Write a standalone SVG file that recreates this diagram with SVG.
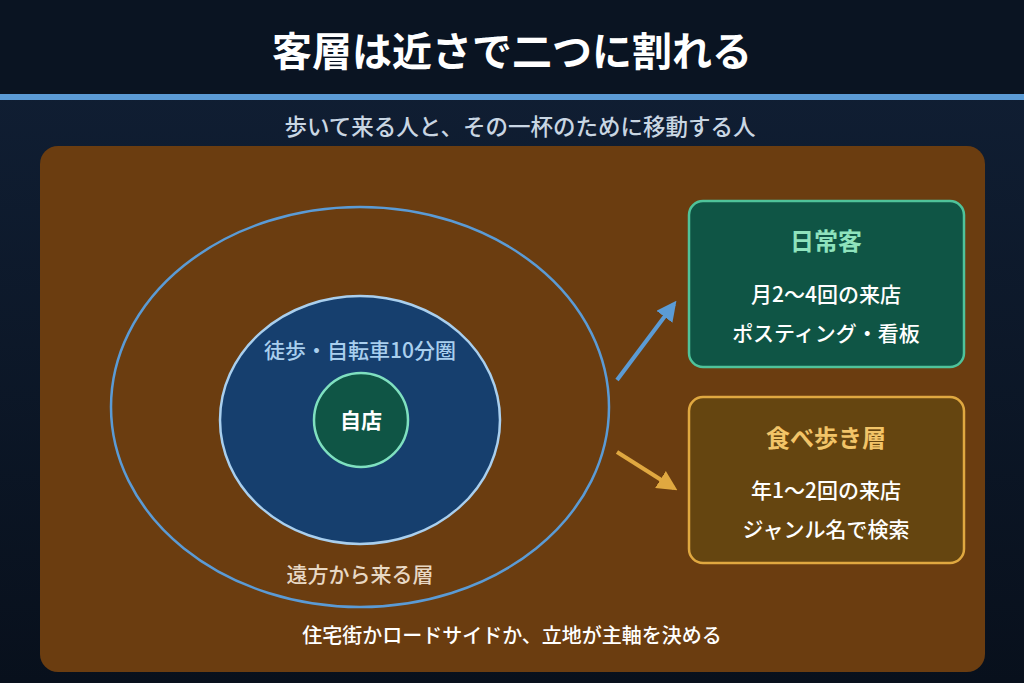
<svg xmlns="http://www.w3.org/2000/svg" width="1024" height="683" viewBox="0 0 1024 683">
<defs>
<linearGradient id="bg" x1="0" y1="0" x2="0" y2="1">
<stop offset="0" stop-color="#112036"/>
<stop offset="1" stop-color="#08101c"/>
</linearGradient>
<marker id="ab" viewBox="0 0 10 10" refX="8" refY="5" markerWidth="5" markerHeight="5" orient="auto"><path d="M0,0L10,5L0,10z" fill="#5b9bd5"/></marker>
<marker id="ao" viewBox="0 0 10 10" refX="8" refY="5" markerWidth="5" markerHeight="5" orient="auto"><path d="M0,0L10,5L0,10z" fill="#e0a840"/></marker>
<style>
text{font-family:"Noto Sans CJK JP","Noto Sans",sans-serif;text-anchor:middle}
.t{font-weight:700;font-size:40px;fill:#fff}
.sub{font-size:22.5px;fill:#c9d6e3;font-weight:500}
.lab{font-size:21px;font-weight:500}
.bt{font-size:24px;font-weight:700}
.bl{font-size:21px;fill:#fff;font-weight:500}
</style>
</defs>
<rect width="1024" height="683" fill="url(#bg)"/>
<rect width="1024" height="95" fill="#0a1422"/>
<rect y="94" width="1024" height="6" fill="#5b9bd5"/>
<text class="t" x="512" y="66">客層は近さで二つに割れる</text>
<text class="sub" x="520" y="135">歩いて来る人と、その一杯のために移動する人</text>
<rect x="40" y="146" width="945" height="526" rx="18" fill="#6b3d10"/>
<g id="outer"><ellipse cx="360" cy="407" rx="249" ry="200" fill="none" stroke="#5b9bd5" stroke-width="2.5"/>
<text class="lab" x="360" y="582" fill="#e8d8c4">遠方から来る層</text></g>
<g id="inner"><ellipse cx="360" cy="420" rx="140" ry="124" fill="#163f6e" stroke="#a9cfee" stroke-width="2.5"/>
<text class="lab" x="360" y="358" fill="#a9cfee">徒歩・自転車10分圏</text></g>
<g id="shop"><circle cx="361" cy="420" r="47" fill="#0f5545" stroke="#7fe0c0" stroke-width="2.5"/>
<text x="361" y="428" font-size="21" font-weight="700" fill="#fff">自店</text></g>
<g id="daily"><rect x="689" y="201" width="275" height="166" rx="14" fill="#0f5545" stroke="#4fc39a" stroke-width="2.5"/>
<text class="bt" x="826" y="250" fill="#8fe3bd">日常客</text>
<text class="bl" x="826" y="302">月2〜4回の来店</text>
<text class="bl" x="826" y="341">ポスティング・看板</text></g>
<g id="tourist"><rect x="689" y="397" width="275" height="166" rx="14" fill="#654510" stroke="#e0a840" stroke-width="2.5"/>
<text class="bt" x="826" y="447" fill="#f2c468">食べ歩き層</text>
<text class="bl" x="826" y="498">年1〜2回の来店</text>
<text class="bl" x="826" y="537">ジャンル名で検索</text></g>
<g id="connectors">
<line x1="617" y1="380" x2="674" y2="304" stroke="#5b9bd5" stroke-width="4" marker-end="url(#ab)"/>
<line x1="617" y1="452" x2="674" y2="488" stroke="#e0a840" stroke-width="4" marker-end="url(#ao)"/>
</g>
<text x="512" y="643" font-size="20" font-weight="500" fill="#fff">住宅街かロードサイドか、立地が主軸を決める</text>
</svg>
